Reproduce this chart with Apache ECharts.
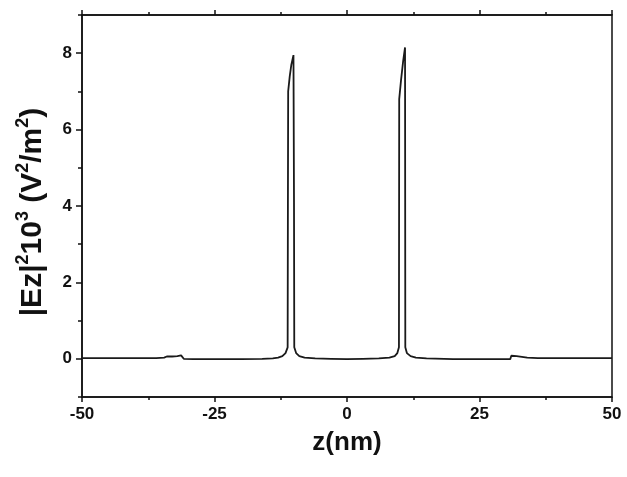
<!DOCTYPE html>
<html>
<head>
<meta charset="utf-8">
<script src="https://cdn.jsdelivr.net/npm/echarts@6/dist/echarts.min.js"></script>
<style>html,body{margin:0;padding:0;background:#fff}#c{width:627px;height:477px}</style>
</head>
<body>
<div id="c"></div>
<script>
// z position (nm)
var zValues = [-50, -45, -40, -36, -34.5, -34, -33, -32, -31.3, -31, -30.8, -29, -25, -20, -16, -14, -13, -12.2, -11.6, -11.2, -11.15, -11.1, -10.8, -10.5, -10.1, -10.0, -9.95, -9.6, -9.0, -8, -6, -3, 0, 3, 6, 8, 9.0, 9.5, 9.8, 9.85, 10.2, 10.6, 10.95, 11.0, 11.3, 12, 13, 15, 20, 25, 29, 30.8, 31, 32, 33, 34, 36, 40, 45, 50];
// |Ez|^2 (x10^3 V^2/m^2)
var ezValues = [0.02, 0.02, 0.02, 0.02, 0.03, 0.06, 0.06, 0.07, 0.09, 0.08, 0.0, -0.01, -0.01, -0.01, 0.0, 0.01, 0.03, 0.07, 0.15, 0.3, 4.0, 7.0, 7.4, 7.7, 7.95, 4.1, 0.3, 0.15, 0.07, 0.03, 0.01, 0.0, -0.01, 0.0, 0.01, 0.03, 0.07, 0.15, 0.3, 6.8, 7.3, 7.8, 8.15, 0.3, 0.15, 0.07, 0.03, 0.01, -0.01, -0.01, -0.01, -0.01, 0.08, 0.07, 0.05, 0.03, 0.02, 0.02, 0.02, 0.02];
var yMajorTicks = [0, 2, 4, 6, 8];

var data = zValues.map(function (z, i) { return [z, ezValues[i]]; });
var FONT = '"Liberation Sans", Arial, sans-serif';
var axisCol = '#111';

var chart = echarts.init(document.getElementById('c'), null, {renderer: 'canvas'});
chart.setOption({
  animation: false,
  backgroundColor: '#fff',
  grid: {left: 82, right: 15, top: 15, bottom: 80, show: true, borderColor: axisCol, borderWidth: 1.5, backgroundColor: 'transparent'},
  xAxis: [{
    type: 'value', min: -50, max: 50, interval: 25, position: 'bottom',
    axisLine: {show: true, onZero: false, lineStyle: {color: axisCol, width: 1.5}},
    axisTick: {show: true, inside: false, length: 5, lineStyle: {color: axisCol, width: 1.5}},
    minorTick: {show: true, splitNumber: 2, length: 3, lineStyle: {color: axisCol, width: 1.5}},
    splitLine: {show: false},
    axisLabel: {color: '#111', fontFamily: FONT, fontWeight: 'bold', fontSize: 17, margin: 9},
    name: 'z(nm)', nameLocation: 'middle', nameGap: 33,
    nameTextStyle: {color: '#111', fontFamily: FONT, fontWeight: 'bold', fontSize: 26}
  }, {
    type: 'value', min: -50, max: 50, interval: 25, position: 'top',
    axisLine: {show: true, onZero: false, lineStyle: {color: axisCol, width: 1.5}},
    axisTick: {show: true, inside: false, length: 5, lineStyle: {color: axisCol, width: 1.5}},
    minorTick: {show: true, splitNumber: 2, length: 3, lineStyle: {color: axisCol, width: 1.5}},
    splitLine: {show: false},
    axisLabel: {show: false}
  }],
  yAxis: [{
    type: 'value', min: -1, max: 9, interval: 1, position: 'left',
    axisLine: {show: true, onZero: false, lineStyle: {color: axisCol, width: 1.5}},
    axisTick: {show: true, inside: false, length: 4, lineStyle: {color: axisCol, width: 1.5}},
    splitLine: {show: false},
    axisLabel: {
      color: '#111', fontFamily: FONT, fontWeight: 'bold', fontSize: 17, margin: 10,
      formatter: function (v) { return yMajorTicks.indexOf(v) >= 0 ? String(v) : ''; }
    },
    name: '{a||Ez|}{s|2}{a|10}{s|3}{a| (V}{s|2}{a|/m}{s|2}{a|)}',
    nameLocation: 'middle', nameGap: 34, nameRotate: 90,
    nameTextStyle: {
      color: '#111', fontFamily: FONT, fontWeight: 'bold', fontSize: 30,
      padding: [0, 12, 0, 0],
      rich: {
        a: {color: '#111', fontFamily: FONT, fontWeight: 'bold', fontSize: 30, lineHeight: 34, verticalAlign: 'bottom'},
        s: {color: '#111', fontFamily: FONT, fontWeight: 'bold', fontSize: 18, lineHeight: 34, verticalAlign: 'top'}
      }
    }
  }, {
    type: 'value', min: -1, max: 9, interval: 1, position: 'left',
    axisLine: {show: false, onZero: false},
    axisTick: {show: true, inside: false, length: 6, customValues: yMajorTicks, lineStyle: {color: axisCol, width: 1.5}},
    axisLabel: {show: false},
    splitLine: {show: false}
  }],
  series: [{
    type: 'line', data: data, xAxisIndex: 0, yAxisIndex: 0,
    showSymbol: false, symbol: 'none', smooth: false,
    lineStyle: {color: '#1a1a1a', width: 1.8},
    clip: true
  }]
});
</script>
</body>
</html>
